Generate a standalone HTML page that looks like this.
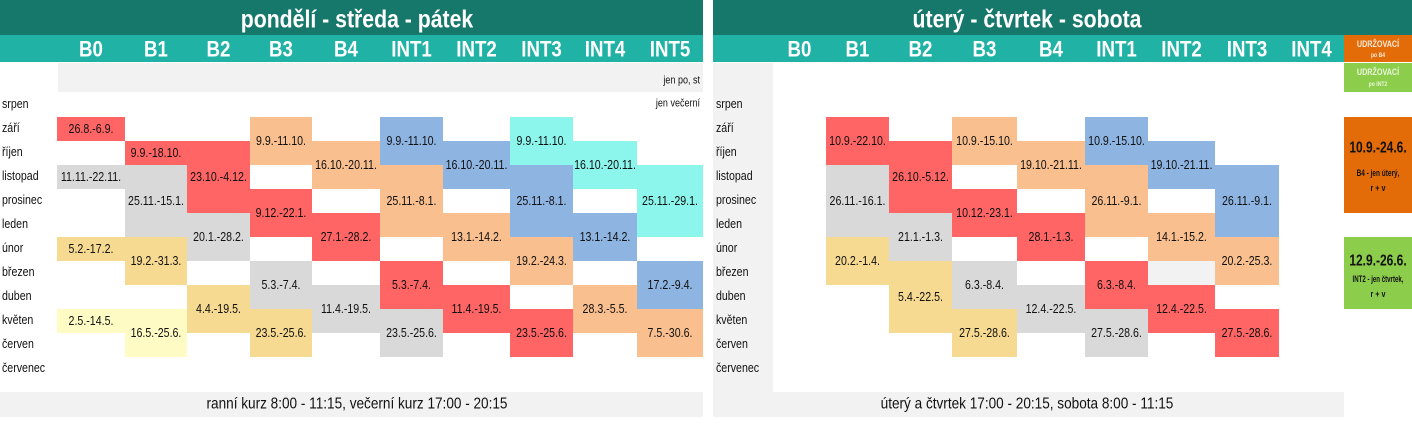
<!DOCTYPE html>
<html><head><meta charset="utf-8">
<style>
html,body{margin:0;padding:0;background:#fff;}
svg{display:block;font-family:"Liberation Sans",sans-serif;}
</style></head>
<body>
<svg id="chart" width="1412" height="445" viewBox="0 0 1412 445" xmlns="http://www.w3.org/2000/svg"></svg>
<script>
const months = ["srpen","září","říjen","listopad","prosinec","leden","únor","březen","duben","květen","červen","červenec"];
const leftCourses = ["B0","B1","B2","B3","B4","INT1","INT2","INT3","INT4","INT5"];
const rightCourses = ["B0","B1","B2","B3","B4","INT1","INT2","INT3","INT4"];
// blocks: [courseIndex, startRow, rowSpan, colorKey, label]
const leftBlocks = [
 [0,1,1,"r","26.8.-6.9."],[0,3,1,"g","11.11.-22.11."],[0,6,1,"y","5.2.-17.2."],[0,9,1,"ly","2.5.-14.5."],
 [1,2,1,"r","9.9.-18.10."],[1,3,3,"g","25.11.-15.1."],[1,6,2,"y","19.2.-31.3."],[1,9,2,"ly","16.5.-25.6."],
 [2,2,3,"r","23.10.-4.12."],[2,5,2,"g","20.1.-28.2."],[2,8,2,"y","4.4.-19.5."],
 [3,1,2,"p","9.9.-11.10."],[3,4,2,"r","9.12.-22.1."],[3,7,2,"g","5.3.-7.4."],[3,9,2,"y","23.5.-25.6."],
 [4,2,2,"p","16.10.-20.11."],[4,5,2,"r","27.1.-28.2."],[4,8,2,"g","11.4.-19.5."],
 [5,1,2,"b","9.9.-11.10."],[5,3,3,"p","25.11.-8.1."],[5,7,2,"r","5.3.-7.4."],[5,9,2,"g","23.5.-25.6."],
 [6,2,2,"b","16.10.-20.11."],[6,5,2,"p","13.1.-14.2."],[6,8,2,"r","11.4.-19.5."],
 [7,1,2,"c","9.9.-11.10."],[7,3,3,"b","25.11.-8.1."],[7,6,2,"p","19.2.-24.3."],[7,9,2,"r","23.5.-25.6."],
 [8,2,2,"c","16.10.-20.11."],[8,5,2,"b","13.1.-14.2."],[8,8,2,"p","28.3.-5.5."],
 [9,3,3,"c","25.11.-29.1."],[9,7,2,"b","17.2.-9.4."],[9,9,2,"p","7.5.-30.6."]
];
const rightBlocks = [
 [1,1,2,"r","10.9.-22.10."],[1,3,3,"g","26.11.-16.1."],[1,6,2,"y","20.2.-1.4."],
 [2,2,3,"r","26.10.-5.12."],[2,5,2,"g","21.1.-1.3."],[2,7,3,"y","5.4.-22.5."],
 [3,1,2,"p","10.9.-15.10."],[3,4,2,"r","10.12.-23.1."],[3,7,2,"g","6.3.-8.4."],[3,9,2,"y","27.5.-28.6."],
 [4,2,2,"p","19.10.-21.11."],[4,5,2,"r","28.1.-1.3."],[4,8,2,"g","12.4.-22.5."],
 [5,1,2,"b","10.9.-15.10."],[5,3,3,"p","26.11.-9.1."],[5,7,2,"r","6.3.-8.4."],[5,9,2,"g","27.5.-28.6."],
 [6,2,2,"b","19.10.-21.11."],[6,5,2,"p","14.1.-15.2."],[6,7,1,"lg",""],[6,8,2,"r","12.4.-22.5."],
 [7,3,3,"b","26.11.-9.1."],[7,6,2,"p","20.2.-25.3."],[7,9,2,"r","27.5.-28.6."]
];
const colors={r:"#ff6565",g:"#d9d9d9",y:"#f7da91",ly:"#fffbc4",p:"#f9bf8f",b:"#8eb4e2",c:"#8cf6ec",lg:"#f2f2f2"};
const leftEdges=[57,125,187,250,312,380,443,510,573,637,703];
const rightEdges=[773,826,889,952,1017,1085,1148,1215,1279,1344];
const ROW0=93, ROWH=24;
const rowY=r=>ROW0+r*ROWH;

const svg=document.getElementById('chart');
const NS="http://www.w3.org/2000/svg";
function rect(x,y,w,h,fill,name){
 const e=document.createElementNS(NS,'rect');
 e.setAttribute('x',x);e.setAttribute('y',y);e.setAttribute('width',w);e.setAttribute('height',h);e.setAttribute('fill',fill);
 
 
 svg.appendChild(e);return e;}
function text(str,x,y,size,fill,anchor,weight,sx,name){
 const e=document.createElementNS(NS,'text');
 e.setAttribute('transform',`translate(${x},${y}) scale(${sx},1)`);
 e.setAttribute('font-size',size);e.setAttribute('fill',fill);e.setAttribute('text-anchor',anchor);
 e.setAttribute('dominant-baseline','central');
 if(weight)e.setAttribute('font-weight',weight);
 e.textContent=str;
 
 
 svg.appendChild(e);return e;}

// title bars
rect(0,0,703,35,"#16776b","title-bar-left");
rect(713,0,631,35,"#16776b","title-bar-right");
rect(1344,0,68,35,"#16776b","title-bar-corner");
text("pondělí - středa - pátek",357,19,25,"#fff","middle","bold",0.85,"title-left");
text("úterý - čtvrtek - sobota",1027,19,25,"#fff","middle","bold",0.85,"title-right");
rect(0,35,703,27,"#20b2a4","header-bar-left");
rect(713,35,631,27,"#20b2a4","header-bar-right");
rect(58,63,645,29,"#f2f2f2","note-row-left");
rect(713,63,60,330,"#f2f2f2","month-column-right");
text("jen po, st",700,81,11,"#111","end",null,0.82,"note-int5-days");
text("jen večerní",700,104,11,"#111","end",null,0.82,"note-int5-evening");

leftCourses.forEach((c,i)=>text(c,(leftEdges[i]+leftEdges[i+1])/2,50,22,"#fff","middle","bold",0.85,"header-"+c.toLowerCase()+"-left"));
rightCourses.forEach((c,i)=>text(c,(rightEdges[i]+rightEdges[i+1])/2,50,22,"#fff","middle","bold",0.85,"header-"+c.toLowerCase()+"-right"));

months.forEach((m,r)=>{
 text(m,2,rowY(r)+ROWH/2-1,12.5,"#111","start",null,0.85,"month-"+r+"-left");
 text(m,716,rowY(r)+ROWH/2-1,12.5,"#111","start",null,0.85,"month-"+r+"-right");
});

function drawBlocks(blocks,edges,side){
 blocks.forEach(b=>{
  const [ci,r,span,ck,label]=b;
  const x=edges[ci],w=edges[ci+1]-edges[ci],y=rowY(r),h=span*ROWH;
  rect(x,y,w,h,colors[ck],"block-"+side+"-"+ci+"-"+r);
  if(label)text(label,x+w/2,y+h/2,12.5,"#111","middle",null,0.85,"label-"+side+"-"+ci+"-"+r);
 });}
drawBlocks(leftBlocks,leftEdges,"left");
drawBlocks(rightBlocks,rightEdges,"right");

// maintenance boxes
rect(1344,35,68,27,"#e36c09","maint-b4-header");
text("UDRŽOVACÍ",1378,44,9,"#fde9d9","middle","bold",0.8,"maint-b4-title");
text("po B4",1378,56,6,"#fde9d9","middle","bold",0.85,"maint-b4-sub");
rect(1344,63,68,29,"#8dcd4c","maint-int2-header");
text("UDRŽOVACÍ",1378,72,9,"#eaf6dc","middle","bold",0.8,"maint-int2-title");
text("po INT2",1378,85,6,"#eaf6dc","middle","bold",0.85,"maint-int2-sub");
rect(1344,117,68,96,"#e36c09","maint-b4-box");
text("10.9.-24.6.",1378,147,16,"#111","middle","bold",0.75,"maint-b4-dates");
text("B4 - jen úterý,",1378,173,9,"#111","middle","bold",0.72,"maint-b4-note");
text("r + v",1378,188,9,"#111","middle","bold",0.8,"maint-b4-note2");
rect(1344,237,68,72,"#8dcd4c","maint-int2-box");
text("12.9.-26.6.",1378,260,16,"#111","middle","bold",0.75,"maint-int2-dates");
text("INT2 - jen čtvrtek,",1378,279,9,"#111","middle","bold",0.68,"maint-int2-note");
text("r + v",1378,294,9,"#111","middle","bold",0.8,"maint-int2-note2");

// footers
rect(0,392,703,25,"#f2f2f2","footer-left");
text("ranní kurz 8:00 - 11:15,   večerní kurz 17:00 - 20:15",357,404,16,"#111","middle",null,0.85,"footer-left-text");
rect(713,392,631,25,"#f2f2f2","footer-right");
text("úterý a čtvrtek 17:00 - 20:15,  sobota 8:00 - 11:15",1027,404,16,"#111","middle",null,0.85,"footer-right-text");
</script>
</body></html>
